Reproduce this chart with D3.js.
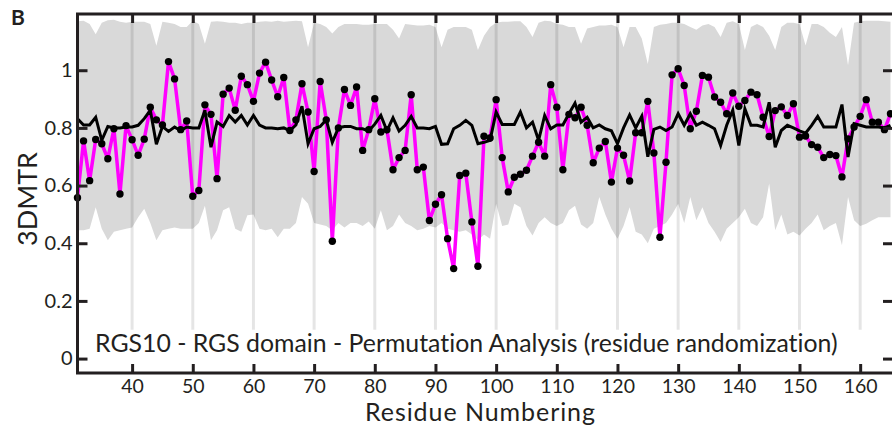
<!DOCTYPE html>
<html>
<head>
<meta charset="utf-8">
<script src="https://cdn.jsdelivr.net/npm/d3@7"></script>
<style>
body{margin:0;background:#fff}
svg{display:block}
text{font-family:Lato,"Liberation Sans",sans-serif;fill:#231f20;font-variant-ligatures:none}
</style>
</head>
<body>
<svg id="chart" width="892" height="427"></svg>
<script>
// residue numbers on the x axis
var residues = d3.range(31, 166)

// observed 3DMTR score per residue (magenta)
var observed = [
	0.558,0.755,0.617,0.760,0.745,0.693,0.797,0.571,0.808,0.759,
	0.705,0.761,0.872,0.828,0.810,1.030,0.970,0.794,0.824,0.563,
	0.583,0.880,0.847,0.624,0.917,0.938,0.861,0.979,0.950,0.892,
	0.990,1.028,0.966,0.908,0.975,0.791,0.828,0.953,0.855,0.649,
	0.961,0.828,0.407,0.800,0.933,0.878,0.942,0.722,0.794,0.901,
	0.786,0.794,0.655,0.697,0.722,0.915,0.655,0.664,0.479,0.535,
	0.568,0.416,0.312,0.635,0.643,0.474,0.320,0.771,0.765,0.898,
	0.697,0.578,0.629,0.639,0.653,0.702,0.750,0.702,0.950,0.872,
	0.655,0.847,0.835,0.872,0.809,0.679,0.730,0.753,0.612,0.730,
	0.705,0.616,0.783,0.783,0.892,0.713,0.421,0.681,0.984,1.005,
	0.947,0.797,0.858,0.982,0.976,0.907,0.889,0.849,0.921,0.875,
	0.895,0.924,0.915,0.837,0.770,0.860,0.873,0.843,0.884,0.768,
	0.772,0.742,0.733,0.697,0.708,0.704,0.630,0.762,0.803,0.840,
	0.898,0.820,0.820,0.794,0.849
]

// mean of the permutations (black line)
var permMean = [
	0.832,0.810,0.810,0.837,0.757,0.805,0.800,0.800,0.803,0.803,
	0.809,0.832,0.861,0.743,0.805,0.788,0.803,0.790,0.803,0.800,
	0.800,0.861,0.733,0.820,0.805,0.843,0.820,0.843,0.810,0.843,
	0.810,0.800,0.800,0.797,0.800,0.790,0.810,0.875,0.745,0.797,
	0.805,0.828,0.750,0.800,0.805,0.805,0.797,0.797,0.789,0.813,
	0.843,0.790,0.835,0.789,0.809,0.840,0.800,0.800,0.797,0.805,
	0.743,0.745,0.797,0.809,0.826,0.809,0.745,0.750,0.757,0.855,
	0.812,0.812,0.812,0.855,0.800,0.820,0.757,0.843,0.797,0.810,
	0.810,0.849,0.886,0.820,0.837,0.800,0.810,0.797,0.790,0.745,
	0.800,0.845,0.800,0.840,0.700,0.795,0.803,0.791,0.803,0.849,
	0.809,0.849,0.809,0.820,0.809,0.797,0.739,0.809,0.861,0.739,
	0.866,0.809,0.809,0.803,0.889,0.733,0.791,0.809,0.800,0.790,
	0.782,0.809,0.840,0.803,0.803,0.803,0.881,0.699,0.815,0.809,
	0.803,0.803,0.803,0.800,0.809
]

// permutation envelope, upper edge
var permHigh = [
	1.170,1.172,1.160,1.125,1.165,1.173,1.175,1.168,1.165,1.168,
	1.168,1.168,1.160,1.085,1.168,1.165,1.160,1.150,1.150,1.172,
	1.160,1.092,1.168,1.170,1.168,1.165,1.165,1.160,1.165,1.165,
	1.168,1.170,1.168,1.172,1.168,1.170,1.172,1.170,1.080,1.165,
	1.160,1.150,1.127,1.150,1.160,1.160,1.160,1.158,1.158,1.160,
	1.160,1.160,1.140,1.110,1.160,1.158,1.155,1.155,1.158,1.150,
	1.080,1.140,1.150,1.150,1.150,1.140,1.070,1.120,1.150,1.165,
	1.168,1.168,1.170,1.170,1.150,1.115,1.165,1.172,1.170,1.160,
	1.158,1.150,1.150,1.092,1.145,1.150,1.155,1.155,1.158,1.150,
	1.080,1.150,1.150,1.110,1.022,1.150,1.158,1.160,1.165,1.165,
	1.160,1.150,1.140,1.155,1.160,1.150,1.115,1.165,1.170,1.160,
	1.070,1.150,1.160,1.150,1.120,1.070,1.150,1.165,1.165,1.160,
	1.086,1.160,1.160,1.150,1.130,1.115,1.150,1.017,1.165,1.170,
	1.172,1.172,1.172,1.170,1.168
]

// permutation envelope, lower edge
var permLow = [
	0.445,0.445,0.450,0.525,0.450,0.410,0.440,0.445,0.450,0.455,
	0.490,0.520,0.470,0.410,0.445,0.450,0.455,0.450,0.450,0.450,
	0.470,0.530,0.410,0.445,0.514,0.525,0.450,0.440,0.497,0.500,
	0.450,0.445,0.450,0.421,0.450,0.450,0.470,0.560,0.537,0.470,
	0.465,0.460,0.445,0.470,0.455,0.470,0.470,0.460,0.475,0.450,
	0.514,0.445,0.460,0.500,0.470,0.460,0.445,0.450,0.460,0.455,
	0.470,0.450,0.445,0.440,0.445,0.430,0.410,0.430,0.416,0.537,
	0.460,0.465,0.537,0.525,0.460,0.427,0.470,0.490,0.470,0.460,
	0.470,0.514,0.530,0.465,0.450,0.470,0.560,0.500,0.450,0.416,
	0.460,0.525,0.440,0.430,0.400,0.450,0.460,0.470,0.500,0.537,
	0.470,0.560,0.480,0.525,0.470,0.440,0.404,0.450,0.470,0.490,
	0.520,0.470,0.460,0.490,0.607,0.445,0.500,0.430,0.440,0.427,
	0.450,0.470,0.500,0.445,0.460,0.470,0.393,0.560,0.480,0.460,
	0.468,0.480,0.490,0.490,0.490
]

var xTicks = [40,50,60,70,80,90,100,110,120,130,140,150,160]
var yTicks = [0,0.2,0.4,0.6,0.8,1]
var yTickLabels = ["0","0.2","0.4","0.6","0.8","1"]
var panelLetter = "B"
var chartTitle = "RGS10 - RGS domain - Permutation Analysis (residue randomization)"
var xTitle = "Residue Numbering"
var yTitle = "3DMTR"

var rows = residues.map(function(r,i){
	return {r:r, obs:observed[i], mean:permMean[i], hi:permHigh[i], lo:permLow[i]}
})

var box = {left:77.5, right:894, top:14, bottom:373}
var ink = "#231f20"

var x = d3.scaleLinear().domain([31,165]).range([box.left, 890.5])
var y = d3.scaleLinear().domain([-0.05,1.195]).range([box.bottom, box.top])

var svg = d3.select("#chart")

// stretch a text to the width it has in the figure
function fitWidth(sel, w) {
	var len = sel.node().getComputedTextLength(),
		fs = parseFloat(sel.attr("font-size"))
	sel.attr("font-size", fs*w/len)
}

// grey permutation band
svg.append("path")
	.datum(rows)
	.attr("fill","#d9d9d9")
	.attr("d", d3.area()
		.x(function(d){ return x(d.r) })
		.y0(function(d){ return y(d.lo) })
		.y1(function(d){ return y(d.hi) }))

// vertical guides
svg.append("g")
	.selectAll("line")
	.data(xTicks)
	.enter()
	.append("line")
	.attr("x1",function(d){ return x(d) })
	.attr("x2",function(d){ return x(d) })
	.attr("y1",box.top)
	.attr("y2",y(0.1))
	.attr("stroke","#000")
	.attr("stroke-opacity",0.1)
	.attr("stroke-width",3)

// observed line
svg.append("path")
	.datum(rows)
	.attr("fill","none")
	.attr("stroke","#ff00ff")
	.attr("stroke-width",3.5)
	.attr("stroke-linejoin","round")
	.attr("d", d3.line()
		.x(function(d){ return x(d.r) })
		.y(function(d){ return y(d.obs) }))

// permutation mean
svg.append("path")
	.datum(rows)
	.attr("fill","none")
	.attr("stroke","#000")
	.attr("stroke-width",3)
	.attr("d", d3.line()
		.x(function(d){ return x(d.r) })
		.y(function(d){ return y(d.mean) }))

svg.append("g")
	.selectAll("circle")
	.data(rows)
	.enter()
	.append("circle")
	.attr("cx",function(d){ return x(d.r) })
	.attr("cy",function(d){ return y(d.obs) })
	.attr("r",3.7)
	.attr("fill","#000")

// axes, ticks pointing in
function styleAxis(g) {
	g.select(".domain").remove()
	g.selectAll(".tick line").attr("stroke",ink).attr("stroke-width",3)
	g.selectAll(".tick text").attr("font-family","Lato, sans-serif").attr("fill",ink)
}

svg.append("g")
	.attr("transform","translate(0,"+box.bottom+")")
	.call(d3.axisBottom(x).tickValues(xTicks).tickSize(-9).tickPadding(6))
	.attr("font-size",19.5)
	.call(styleAxis)

svg.append("g")
	.attr("transform","translate(0,"+box.top+")")
	.call(d3.axisTop(x).tickValues(xTicks).tickSize(-9).tickFormat(""))
	.call(styleAxis)

svg.append("g")
	.attr("transform","translate("+box.left+",0)")
	.call(d3.axisLeft(y).tickValues(yTicks).tickSize(-10).tickPadding(5)
		.tickFormat(function(d,i){ return yTickLabels[i] }))
	.attr("font-size",20)
	.call(styleAxis)

svg.append("g")
	.attr("transform","translate("+box.right+",0)")
	.call(d3.axisRight(y).tickValues(yTicks).tickSize(-11).tickFormat(""))
	.call(styleAxis)

// frame
svg.append("path")
	.attr("fill","none")
	.attr("stroke",ink)
	.attr("stroke-width",3)
	.attr("d","M"+box.left+","+box.top+"V"+box.bottom+"H"+box.right+"V"+box.top+"Z")

// texts
var t = svg.append("text")
	.attr("x",95).attr("y",352)
	.attr("font-size",25)
	.text(chartTitle)
fitWidth(t, 743)

svg.append("text")
	.attr("x",365).attr("y",421)
	.attr("font-size",25)
	.attr("textLength",230)
	.attr("lengthAdjust","spacing")
	.text(xTitle)

var yt = svg.append("text")
	.attr("transform","translate(37,199) rotate(-90)")
	.attr("text-anchor","middle")
	.attr("font-size",24)
	.text(yTitle)
fitWidth(yt, 94)

svg.append("text")
	.attr("x",11).attr("y",25)
	.attr("font-family","'Liberation Sans', Arial, sans-serif")
	.attr("font-weight","bold")
	.attr("font-size",21)
	.text(panelLetter)
</script>
</body>
</html>
